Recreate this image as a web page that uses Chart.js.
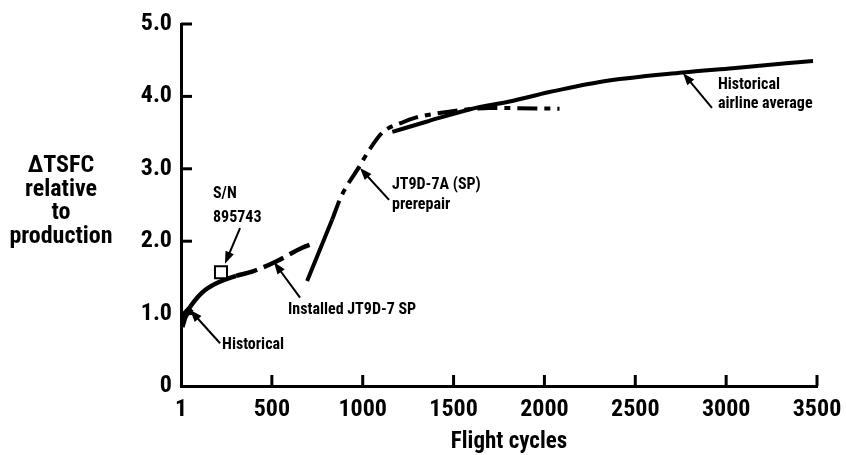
<!DOCTYPE html>
<html lang="en">
  <head>
    <meta charset="UTF-8" />
    <title>TSFC deterioration vs flight cycles</title>
    <script src="https://cdn.jsdelivr.net/npm/chart.js"></script>
    <style>
      html, body { margin: 0; padding: 0; background: #fff; }
    </style>
  </head>
  <body>
    <canvas id="myChart" width="846" height="455"></canvas>

    <script>
      const FONT = '"Roboto Condensed", "Open Sans Condensed", sans-serif';

      // axis ticks
      const xTicks = [0, 500, 1000, 1500, 2000, 2500, 3000, 3500];
      const xTickLabels = ['1', '500', '1000', '1500', '2000', '2500', '3000', '3500'];
      const yTicks = [0, 1, 2, 3, 4, 5];
      const yTickLabels = ['0', '1.0', '2.0', '3.0', '4.0', '5.0'];
      const xTitle = 'Flight cycles';
      const yTitle = ['\u0394TSFC', 'relative', 'to', 'production'];

      // Historical (first cycles)
      const histCycles = [1, 20, 55];
      const histTsfc = [0.82, 0.97, 1.07];

      // Installed JT9D-7 SP
      const instCycles = [1, 44, 116, 204, 303, 391, 524, 667, 744];
      const instTsfc = [0.88, 1.07, 1.29, 1.43, 1.52, 1.58, 1.72, 1.91, 1.98];

      // JT9D-7A (SP) prerepair
      const preCycles = [694, 832, 882, 981, 1036, 1108, 1218, 1295, 1422, 1571, 1698, 2083];
      const preTsfc = [1.45, 2.3, 2.62, 3.03, 3.26, 3.5, 3.64, 3.71, 3.77, 3.82, 3.84, 3.83];

      // Historical airline average
      const avgCycles = [1163, 1350, 1587, 1808, 2028, 2304, 2761, 3037, 3478];
      const avgTsfc = [3.51, 3.65, 3.82, 3.93, 4.06, 4.2, 4.33, 4.39, 4.49];

      // S/N 895743
      const snCycles = [220];
      const snTsfc = [1.57];

      // callouts: text anchor, arrow tail and head, all in data units
      const notes = [
        { text: ['Historical'], at: [226, 0.57], gap: 20, tail: [215, 0.59], head: [50, 1.05] },
        { text: ['Installed JT9D-7 SP'], at: [589, 1.05], gap: 20, tail: [655, 1.22], head: [512, 1.71] },
        { text: ['S/N', '895743'], at: [176, 2.65], gap: 24, tail: [325, 2.18], head: [242, 1.69] },
        { text: ['JT9D-7A (SP)', 'prerepair'], at: [1161, 2.78], gap: 20, tail: [1145, 2.57], head: [985, 3.01] },
        { text: ['Historical', 'airline average'], at: [2955, 4.16], gap: 19, tail: [2922, 3.84], head: [2763, 4.32] },
      ];

      const pts = (xs, ys) => xs.map((x, i) => ({ x: x, y: ys[i] }));

      const extras = {
        id: 'extras',
        afterDraw(chart) {
          const { ctx, chartArea, scales } = chart;
          const x = scales.x;
          const y = scales.y;
          ctx.save();
          ctx.strokeStyle = '#000';
          ctx.fillStyle = '#000';

          // tick marks point into the plot
          ctx.lineWidth = 3;
          yTicks.slice(1).forEach((v) => {
            const py = y.getPixelForValue(v);
            ctx.beginPath();
            ctx.moveTo(chartArea.left, py);
            ctx.lineTo(chartArea.left + 11, py);
            ctx.stroke();
          });
          xTicks.slice(1).forEach((v) => {
            const px = x.getPixelForValue(v);
            ctx.beginPath();
            ctx.moveTo(px, chartArea.bottom);
            ctx.lineTo(px, chartArea.bottom - 11);
            ctx.stroke();
          });

          // axis titles
          ctx.textAlign = 'center';
          ctx.textBaseline = 'alphabetic';
          ctx.font = 'bold 23px ' + FONT;
          ctx.fillText(xTitle, 509, 448);
          ctx.font = 'bold 24px ' + FONT;
          yTitle.forEach((t, i) => ctx.fillText(t, 61, 172 + i * 23.5));

          // callouts
          ctx.font = 'bold 16px ' + FONT;
          ctx.textAlign = 'left';
          ctx.textBaseline = 'middle';
          notes.forEach((n) => {
            const tx = x.getPixelForValue(n.at[0]);
            const ty = y.getPixelForValue(n.at[1]);
            n.text.forEach((t, i) => ctx.fillText(t, tx, ty + i * n.gap));

            const x1 = x.getPixelForValue(n.tail[0]);
            const y1 = y.getPixelForValue(n.tail[1]);
            const x2 = x.getPixelForValue(n.head[0]);
            const y2 = y.getPixelForValue(n.head[1]);
            const a = Math.atan2(y2 - y1, x2 - x1);
            const L = 12;
            const W = 4.5;
            ctx.lineWidth = 2;
            ctx.beginPath();
            ctx.moveTo(x1, y1);
            ctx.lineTo(x2 - L * 0.7 * Math.cos(a), y2 - L * 0.7 * Math.sin(a));
            ctx.stroke();
            ctx.beginPath();
            ctx.moveTo(x2, y2);
            ctx.lineTo(x2 - L * Math.cos(a) + W * Math.sin(a), y2 - L * Math.sin(a) - W * Math.cos(a));
            ctx.lineTo(x2 - L * Math.cos(a) - W * Math.sin(a), y2 - L * Math.sin(a) + W * Math.cos(a));
            ctx.closePath();
            ctx.fill();
          });
          ctx.restore();
        },
      };

      const ctx = document.getElementById('myChart').getContext('2d');
      const myChart = new Chart(ctx, {
        type: 'line',
        plugins: [extras],
        data: {
          datasets: [
            {
              label: 'S/N 895743',
              data: pts(snCycles, snTsfc),
              showLine: false,
              pointStyle: 'rect',
              pointRadius: 8.5,
              borderWidth: 2,
              borderColor: '#000',
              backgroundColor: '#fff',
              order: 0,
            },
            {
              label: 'Historical',
              data: pts(histCycles, histTsfc),
              borderColor: '#000',
              borderWidth: 7,
              order: 1,
            },
            {
              label: 'Installed JT9D-7 SP',
              data: pts(instCycles, instTsfc),
              borderColor: '#000',
              borderWidth: 4.5,
              segment: {
                borderDash: (c) => (c.p0DataIndex >= 4 ? [22, 7] : []),
              },
              order: 1,
            },
            {
              label: 'JT9D-7A (SP) prerepair',
              data: pts(preCycles, preTsfc),
              borderColor: '#000',
              borderWidth: 4,
              segment: {
                borderDash: (c) => (c.p0DataIndex >= 1 ? [20, 7, 6, 7] : []),
              },
              order: 1,
            },
            {
              label: 'Historical airline average',
              data: pts(avgCycles, avgTsfc),
              borderColor: '#000',
              borderWidth: 4,
              order: 1,
            },
          ],
        },
        options: {
          responsive: false,
          animation: false,
          events: [],
          layout: { padding: { top: 24, right: 29, left: 0, bottom: 0 } },
          elements: {
            point: { radius: 0 },
            line: { cubicInterpolationMode: 'monotone', borderCapStyle: 'butt' },
          },
          plugins: {
            legend: { display: false },
            tooltip: { enabled: false },
          },
          scales: {
            x: {
              type: 'linear',
              min: 0,
              max: 3500,
              afterBuildTicks: (s) => {
                s.ticks = xTicks.map((v) => ({ value: v }));
              },
              afterFit: (s) => {
                s.height = 69;
              },
              ticks: {
                autoSkip: false,
                maxRotation: 0,
                padding: 2,
                color: '#000',
                font: { family: FONT, size: 24, weight: 'bold' },
                callback: (v, i) => xTickLabels[i],
              },
              grid: { display: false },
              border: { display: true, color: '#000', width: 3 },
            },
            y: {
              type: 'linear',
              min: 0,
              max: 5,
              afterBuildTicks: (s) => {
                s.ticks = yTicks.map((v) => ({ value: v }));
              },
              afterFit: (s) => {
                s.width = 181;
              },
              ticks: {
                padding: 1,
                color: '#000',
                font: { family: FONT, size: 24, weight: 'bold' },
                callback: (v, i) => yTickLabels[i],
              },
              grid: { display: false },
              border: { display: true, color: '#000', width: 3 },
            },
          },
        },
      });
    </script>
  </body>
</html>
